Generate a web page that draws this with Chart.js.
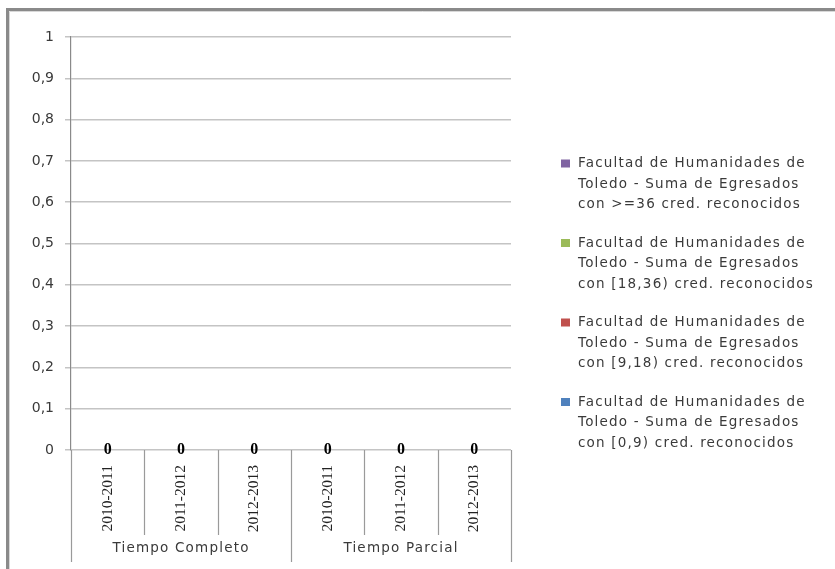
<!DOCTYPE html>
<html>
<head>
<meta charset="utf-8">
<script src="https://cdn.jsdelivr.net/npm/chart.js@4.4.0/dist/chart.umd.min.js"></script>
<style>
  html, body { margin: 0; padding: 0; background: #ffffff; }
  #wrap { width: 835px; height: 569px; position: relative; }
</style>
</head>
<body>
<div id="wrap"><canvas id="c" width="835" height="569"></canvas></div>
<script>
// ---- data ----
const categories = ["2010-2011", "2011-2012", "2012-2013", "2010-2011", "2011-2012", "2012-2013"];
const groups = ["Tiempo Completo", "Tiempo Parcial"];
const groupSize = 3;
const seriesNames = [
  "Facultad de Humanidades de Toledo - Suma de Egresados con [0,9) cred. reconocidos",
  "Facultad de Humanidades de Toledo - Suma de Egresados con [9,18) cred. reconocidos",
  "Facultad de Humanidades de Toledo - Suma de Egresados con [18,36) cred. reconocidos",
  "Facultad de Humanidades de Toledo - Suma de Egresados con >=36 cred. reconocidos"
];
const legendLines = [
  ["Facultad de Humanidades de", "Toledo - Suma de Egresados", "con [0,9) cred. reconocidos"],
  ["Facultad de Humanidades de", "Toledo - Suma de Egresados", "con [9,18) cred. reconocidos"],
  ["Facultad de Humanidades de", "Toledo - Suma de Egresados", "con [18,36) cred. reconocidos"],
  ["Facultad de Humanidades de", "Toledo - Suma de Egresados", "con >=36 cred. reconocidos"]
];
const values0to9 = [0, 0, 0, 0, 0, 0];
const values9to18 = [0, 0, 0, 0, 0, 0];
const values18to36 = [0, 0, 0, 0, 0, 0];
const values36plus = [0, 0, 0, 0, 0, 0];
const seriesColors = ["#4F81BD", "#C0504D", "#9BBB59", "#8064A2"];
const yMin = 0, yMax = 1, yStep = 0.1;

const SANS = "'DejaVu Sans', sans-serif";
const SERIF = "'Liberation Serif', serif";
const TEXT = "#3a3a3a";

const framePlugin = {
  id: 'frame',
  beforeDraw(chart) {
    const ctx = chart.ctx;
    ctx.save();
    ctx.strokeStyle = "#8a8a8a";
    ctx.lineWidth = 3;
    ctx.beginPath();
    ctx.moveTo(7.5, 569);
    ctx.lineTo(7.5, 9.5);
    ctx.lineTo(835, 9.5);
    ctx.stroke();
    ctx.strokeStyle = "#d8d8d8";
    ctx.lineWidth = 1;
    ctx.beginPath();
    ctx.moveTo(9.5, 569);
    ctx.lineTo(9.5, 11.5);
    ctx.lineTo(835, 11.5);
    ctx.stroke();
    ctx.restore();
  }
};

const categoryAxisPlugin = {
  id: 'catAxis',
  afterDraw(chart) {
    const ctx = chart.ctx;
    const xs = chart.scales.x;
    const area = chart.chartArea;
    const n = categories.length;
    const step = (xs.getPixelForValue(1) - xs.getPixelForValue(0));
    ctx.save();
    ctx.strokeStyle = "#9a9a9a";
    ctx.lineWidth = 1.2;
    for (let i = 0; i <= n; i++) {
      const x = Math.round(xs.getPixelForValue(i) - step / 2) + 0.5;
      const isGroup = (i % groupSize === 0);
      ctx.beginPath();
      ctx.moveTo(x, area.bottom);
      ctx.lineTo(x, isGroup ? area.bottom + 112 : area.bottom + 85);
      ctx.stroke();
    }
    // group labels
    ctx.fillStyle = TEXT;
    ctx.font = "13.5px " + SANS;
    ctx.letterSpacing = "1.2px";
    ctx.textAlign = "center";
    ctx.textBaseline = "middle";
    groups.forEach((g, gi) => {
      const a = xs.getPixelForValue(gi * groupSize) - step / 2;
      const b = xs.getPixelForValue(gi * groupSize + groupSize - 1) + step / 2;
      ctx.fillText(g, (a + b) / 2, area.bottom + 98);
    });
    // data labels (stack totals)
    ctx.letterSpacing = "0px";
    ctx.font = "bold 16px " + SERIF;
    ctx.fillStyle = "#000";
    const ys = chart.scales.y;
    for (let i = 0; i < n; i++) {
      let total = 0;
      chart.data.datasets.forEach(ds => { total += ds.data[i]; });
      ctx.fillText(String(total), xs.getPixelForValue(i), ys.getPixelForValue(total));
    }
    // legend
    ctx.font = "13.5px " + SANS;
    ctx.letterSpacing = "1.2px";
    ctx.textAlign = "left";
    const dsCount = chart.data.datasets.length;
    for (let k = 0; k < dsCount; k++) {
      const di = dsCount - 1 - k;
      const top = 163.5 + k * 79.5;
      ctx.fillStyle = seriesColors[di];
      ctx.fillRect(561, top - 4, 9, 8);
      ctx.fillStyle = TEXT;
      legendLines[di].forEach((ln, li) => ctx.fillText(ln, 578, top + li * 20.5));
    }
    ctx.restore();
  }
};

new Chart(document.getElementById('c'), {
  type: 'bar',
  data: {
    labels: categories,
    datasets: [
      { label: seriesNames[0], data: values0to9, backgroundColor: seriesColors[0] },
      { label: seriesNames[1], data: values9to18, backgroundColor: seriesColors[1] },
      { label: seriesNames[2], data: values18to36, backgroundColor: seriesColors[2] },
      { label: seriesNames[3], data: values36plus, backgroundColor: seriesColors[3] }
    ]
  },
  options: {
    responsive: false,
    animation: false,
    devicePixelRatio: 1,
    layout: { padding: { left: 0, right: 324, top: 37, bottom: 0 } },
    plugins: { legend: { display: false }, tooltip: { enabled: false } },
    scales: {
      x: {
        stacked: true,
        afterFit: s => { s.height = 119; },
        border: { display: false },
        grid: { display: false },
        ticks: {
          autoSkip: false,
          minRotation: 90,
          maxRotation: 90,
          padding: 7,
          color: "#222",
          font: { family: "'Liberation Serif', serif", size: 15.5 }
        }
      },
      y: {
        stacked: true,
        min: yMin,
        max: yMax,
        afterFit: s => { s.width = 71; },
        border: { display: true, color: "#8a8a8a", width: 1.2 },
        grid: { color: "#c4c4c4", lineWidth: 1.5, tickLength: 6, tickColor: "#c4c4c4" },
        ticks: {
          stepSize: yStep,
          padding: 11,
          color: TEXT,
          font: { family: "'DejaVu Sans', sans-serif", size: 14 },
          callback: v => String(Number(v.toFixed(1))).replace('.', ',')
        }
      }
    }
  },
  plugins: [framePlugin, categoryAxisPlugin]
});
</script>
</body>
</html>
